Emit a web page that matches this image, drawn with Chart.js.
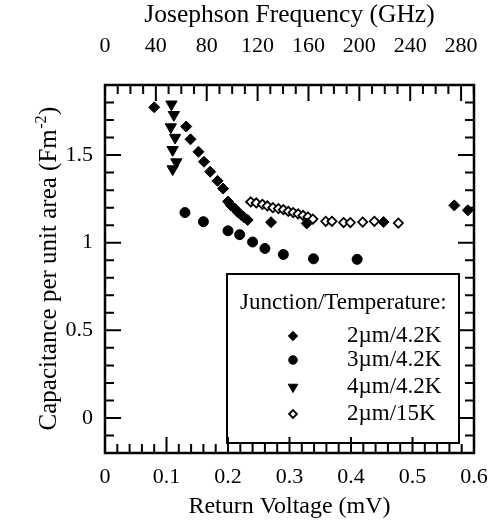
<!DOCTYPE html>
<html>
<head>
<meta charset="utf-8">
<title>Capacitance vs Return Voltage</title>
<script src="https://cdn.jsdelivr.net/npm/chart.js@4.4.1/dist/chart.umd.min.js"></script>
<style>
  html, body { margin: 0; padding: 0; background: #fff; }
  #wrap { width: 490px; height: 529px; }
</style>
</head>
<body>
<div id="wrap"><canvas id="capChart" width="490" height="529"></canvas></div>
<script>
// Return voltage (mV) and capacitance per unit area for each junction/temperature
const volt2um42K = [0.080, 0.132, 0.139, 0.152, 0.161, 0.171, 0.183, 0.192, 0.200, 0.205,
                    0.211, 0.216, 0.221, 0.226, 0.232, 0.270, 0.328, 0.453, 0.568, 0.590];
const cap2um42K  = [1.773, 1.663, 1.590, 1.519, 1.462, 1.405, 1.353, 1.309, 1.235, 1.212,
                    1.195, 1.175, 1.160, 1.145, 1.130, 1.117, 1.110, 1.118, 1.213, 1.185];

const volt3um42K = [0.130, 0.160, 0.200, 0.219, 0.240, 0.260, 0.290, 0.339, 0.410];
const cap3um42K  = [1.172, 1.120, 1.068, 1.046, 1.004, 0.967, 0.933, 0.908, 0.905];

const volt4um42K = [0.108, 0.112, 0.107, 0.114, 0.110, 0.116, 0.110];
const cap4um42K  = [1.79, 1.73, 1.66, 1.60, 1.53, 1.46, 1.42];

const volt2um15K = [0.237, 0.246, 0.256, 0.264, 0.273, 0.282, 0.290, 0.298, 0.306, 0.314,
                    0.322, 0.330, 0.338, 0.359, 0.369, 0.388, 0.399, 0.419, 0.438, 0.477];
const cap2um15K  = [1.233, 1.227, 1.219, 1.210, 1.200, 1.195, 1.189, 1.179, 1.172, 1.164,
                    1.156, 1.147, 1.135, 1.122, 1.122, 1.115, 1.115, 1.118, 1.122, 1.112];

// axis ticks
const voltTicks = [0, 0.1, 0.2, 0.3, 0.4, 0.5, 0.6];
const freqTicks = [0, 40, 80, 120, 160, 200, 240, 280];
const capTicks  = [0, 0.5, 1, 1.5];

const GHZ_PER_MV = 483.6; // Josephson constant 2e/h
const FONT = '"Liberation Serif", "Times New Roman", "DejaVu Serif", serif';

const seriesLabels = ['2\u00b5m/4.2K', '3\u00b5m/4.2K', '4\u00b5m/4.2K', '2\u00b5m/15K'];

function toPoints(xs, ys) {
  return xs.map((x, i) => ({ x: x, y: ys[i] }));
}

const markerStyles = [
  { pointStyle: 'rectRot', radius: 5.5, rotation: 0, backgroundColor: '#000', borderColor: '#000', borderWidth: 1 },
  { pointStyle: 'circle', radius: 5, rotation: 0, backgroundColor: '#000', borderColor: '#000', borderWidth: 1 },
  { pointStyle: 'triangle', radius: 6.5, rotation: 180, backgroundColor: '#000', borderColor: '#000', borderWidth: 1 },
  { pointStyle: 'rectRot', radius: 4.6, rotation: 0, backgroundColor: '#fff', borderColor: '#000', borderWidth: 1.8 }
];

const seriesData = [
  toPoints(volt2um42K, cap2um42K),
  toPoints(volt3um42K, cap3um42K),
  toPoints(volt4um42K, cap4um42K),
  toPoints(volt2um15K, cap2um15K)
];

const datasets = seriesData.map((pts, i) => ({
  label: seriesLabels[i],
  data: pts,
  xAxisID: 'x',
  yAxisID: 'y',
  showLine: false,
  pointStyle: markerStyles[i].pointStyle,
  pointRadius: markerStyles[i].radius,
  pointHoverRadius: markerStyles[i].radius,
  pointRotation: markerStyles[i].rotation,
  pointBackgroundColor: markerStyles[i].backgroundColor,
  pointBorderColor: markerStyles[i].borderColor,
  pointBorderWidth: markerStyles[i].borderWidth
}));

// no extra room for edge labels, the plot box is fixed by afterFit
function fixPadding(s) {
  s.paddingLeft = 0;
  s.paddingRight = 0;
  s.paddingTop = 0;
  s.paddingBottom = 0;
}

// inward tick marks and the frame round the plot
const frameTicks = {
  id: 'frameTicks',
  afterDraw(chart) {
    const ctx = chart.ctx;
    const a = chart.chartArea;
    const sx = chart.scales.x, sf = chart.scales.x2, sy = chart.scales.y;
    const major = 16, minor = 9;
    ctx.save();
    ctx.strokeStyle = '#000';
    ctx.lineWidth = 2;
    ctx.beginPath();
    // bottom: voltage, minor every 0.02
    for (let k = 0; k <= 30; k++) {
      const px = sx.getPixelForValue(k * 0.02);
      const len = (k % 5 === 0) ? major : minor;
      ctx.moveTo(px, a.bottom);
      ctx.lineTo(px, a.bottom - len);
    }
    // top: frequency, minor every 10 GHz
    for (let k = 0; k <= 29; k++) {
      const px = sf.getPixelForValue(k * 10);
      const len = (k % 4 === 0) ? major : minor;
      ctx.moveTo(px, a.top);
      ctx.lineTo(px, a.top + len);
    }
    // left and right: capacitance, minor every 0.1
    for (let k = -2; k <= 19; k++) {
      const py = sy.getPixelForValue(k * 0.1);
      const len = (k % 5 === 0) ? major : minor;
      ctx.moveTo(a.left, py);
      ctx.lineTo(a.left + len, py);
      ctx.moveTo(a.right, py);
      ctx.lineTo(a.right - len, py);
    }
    ctx.stroke();
    ctx.lineWidth = 2.5;
    ctx.strokeRect(a.left, a.top, a.right - a.left, a.bottom - a.top);
    ctx.restore();
  }
};

// y axis title with a raised exponent
const yTitle = {
  id: 'yTitle',
  afterDraw(chart) {
    const ctx = chart.ctx;
    const a = chart.chartArea;
    const main = 'Capacitance per unit area (Fm';
    const sup = '-2';
    const tail = ')';
    ctx.save();
    ctx.translate(48, (a.top + a.bottom) / 2);
    ctx.rotate(-Math.PI / 2);
    ctx.fillStyle = '#000';
    ctx.textBaseline = 'alphabetic';
    ctx.textAlign = 'left';
    const big = '25px ' + FONT, small = '16px ' + FONT;
    ctx.font = big;
    const wMain = ctx.measureText(main).width;
    const wTail = ctx.measureText(tail).width;
    ctx.font = small;
    const wSup = ctx.measureText(sup).width;
    const x0 = -(wMain + wSup + wTail) / 2;
    const base = 8;
    ctx.font = big;
    ctx.fillText(main, x0, base);
    ctx.font = small;
    ctx.fillText(sup, x0 + wMain + 0.5, base - 10);
    ctx.font = big;
    ctx.fillText(tail, x0 + wMain + wSup + 1, base);
    ctx.restore();
  }
};

// boxed legend inside the plot
const boxLegend = {
  id: 'boxLegend',
  afterDatasetsDraw(chart) {
    const ctx = chart.ctx;
    const a = chart.chartArea;
    const bx = a.left + 122, by = a.top + 189, bw = 232, bh = 169;
    ctx.save();
    ctx.fillStyle = '#fff';
    ctx.fillRect(bx, by, bw, bh);
    ctx.strokeStyle = '#000';
    ctx.lineWidth = 2;
    ctx.strokeRect(bx, by, bw, bh);

    ctx.fillStyle = '#000';
    ctx.font = '23px ' + FONT;
    ctx.textBaseline = 'middle';
    ctx.textAlign = 'left';
    ctx.fillText('Junction/Temperature:', bx + 13, by + 29);

    const rowY = [62, 86, 113, 140];
    seriesLabels.forEach((label, i) => {
      const m = markerStyles[i];
      ctx.fillStyle = m.backgroundColor;
      ctx.strokeStyle = m.borderColor;
      ctx.lineWidth = m.borderWidth;
      Chart.helpers.drawPoint(ctx, {
        pointStyle: m.pointStyle,
        radius: m.radius * 0.85,
        rotation: m.rotation,
        borderWidth: m.borderWidth
      }, bx + 66, by + rowY[i]);
      ctx.fillStyle = '#000';
      ctx.fillText(label, bx + 120, by + rowY[i]);
    });
    ctx.restore();
  }
};

const ctx = document.getElementById('capChart').getContext('2d');
new Chart(ctx, {
  type: 'scatter',
  data: { datasets: datasets },
  options: {
    responsive: false,
    animation: false,
    devicePixelRatio: 1,
    layout: { padding: { left: 0, right: 16, top: 0, bottom: 0 } },
    plugins: {
      legend: { display: false },
      tooltip: { enabled: false }
    },
    scales: {
      x: {
        type: 'linear',
        position: 'bottom',
        min: 0,
        max: 0.6,
        afterBuildTicks: s => { s.ticks = voltTicks.map(v => ({ value: v })); },
        afterFit: s => { s.height = 76; fixPadding(s); },
        grid: { display: false, drawTicks: false },
        border: { display: false },
        ticks: {
          color: '#000',
          font: { family: FONT, size: 22 },
          padding: 11,
          maxRotation: 0,
          callback: v => String(v)
        },
        title: {
          display: true,
          text: 'Return Voltage (mV)',
          color: '#000',
          font: { family: FONT, size: 24 },
          padding: { top: 0, bottom: 8 }
        }
      },
      x2: {
        type: 'linear',
        position: 'top',
        min: 0,
        max: 0.6 * GHZ_PER_MV,
        afterBuildTicks: s => { s.ticks = freqTicks.map(v => ({ value: v })); },
        afterFit: s => { s.height = 85; fixPadding(s); },
        grid: { display: false, drawTicks: false },
        border: { display: false },
        ticks: {
          color: '#000',
          font: { family: FONT, size: 22 },
          padding: 26,
          maxRotation: 0,
          callback: v => String(v)
        },
        title: {
          display: true,
          text: 'Josephson Frequency (GHz)',
          color: '#000',
          font: { family: FONT, size: 25.5 },
          padding: { top: 0, bottom: 0 }
        }
      },
      y: {
        type: 'linear',
        position: 'left',
        min: -0.2,
        max: 1.9,
        afterBuildTicks: s => { s.ticks = capTicks.map(v => ({ value: v })); },
        afterFit: s => { s.width = 105; fixPadding(s); },
        grid: { display: false, drawTicks: false },
        border: { display: false },
        ticks: {
          color: '#000',
          font: { family: FONT, size: 22 },
          padding: 12,
          callback: v => String(v)
        },
        title: { display: false }
      }
    }
  },
  plugins: [frameTicks, boxLegend, yTitle]
});
</script>
</body>
</html>
